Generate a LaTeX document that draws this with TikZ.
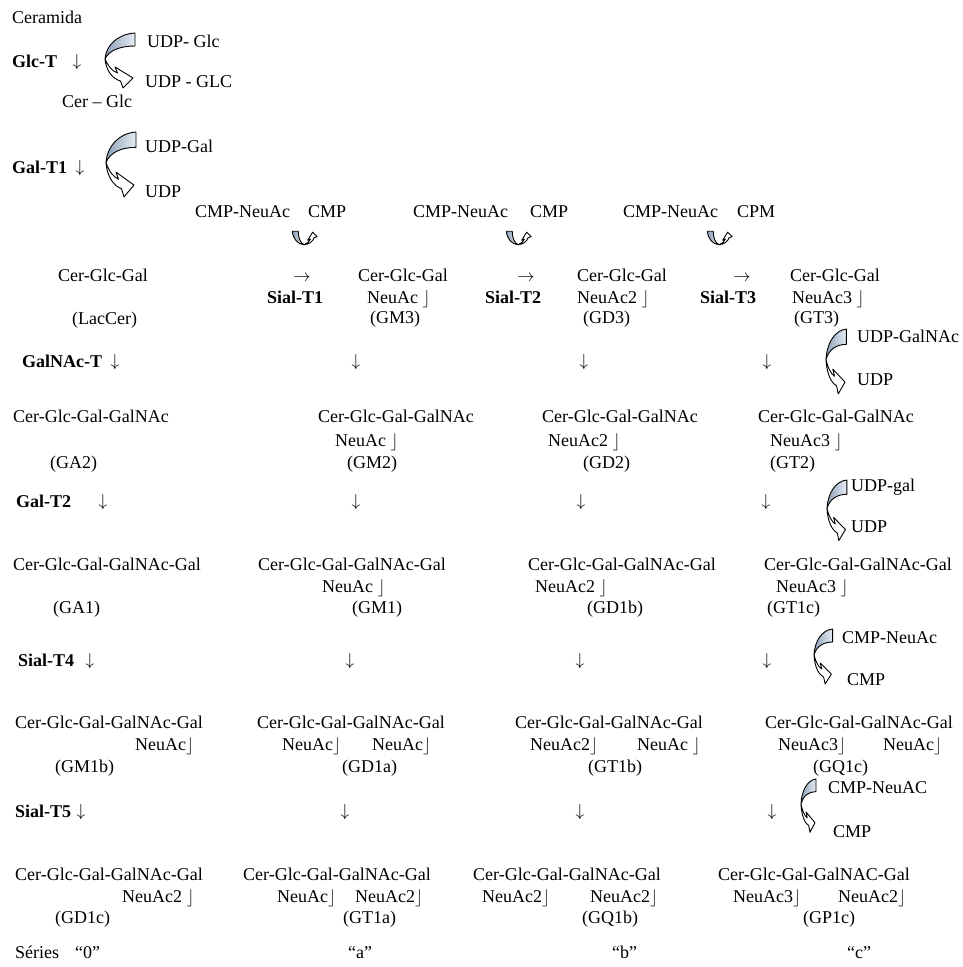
\documentclass[tikz,border=0pt]{standalone}
\usepackage{fontspec}
\setmainfont{Liberation Serif}
\definecolor{shLight}{HTML}{E6EDF4}
\definecolor{shDark}{HTML}{8CA1B7}
\newcommand{\cvarrow}[1]{%
  \begin{scope}[#1]
    \shadedraw[left color=shDark, right color=shLight, draw=black, line width=0.9pt, line join=round]
      (30,0) .. controls (13,1) and (1,12) .. (0,26) .. controls (4,17) and (16,13) .. (30,13) -- cycle;
    \filldraw[fill=white, draw=black, line width=0.9pt, line join=round]
      (0,26) .. controls (1,38) and (8,46) .. (15.5,48) -- (18,55) -- (28,45) -- (10,34) -- (12.5,40)
      .. controls (7,38) and (3,33) .. (0,26) -- cycle;
  \end{scope}}
\newcommand{\dar}{$\downarrow$}
\newcommand{\rar}{$\rightarrow$}
\tikzset{
  lbl/.style={anchor=west, inner sep=0pt, text height=13pt, text depth=3pt, font=\fontsize{18}{21}\selectfont},
  enz/.style={lbl, font=\fontsize{18}{21}\selectfont\bfseries},
  glyph/.style={lbl, anchor=center},
}
\begin{document}
\begin{tikzpicture}[x=1pt, y=-1pt]
\useasboundingbox (0,0) rectangle (962,967);

% ---------- top part
\node[lbl] (ceramida) at (12,18) {Ceramida};
\node[enz] (glct) at (12,62) {Glc-T};
\node[glyph] (dglct) at (77,61) {\dar};
\cvarrow{shift={(105,33)}}
\node[lbl] (udpglc) at (147,42) {UDP- Glc};
\node[lbl] (udpGLC) at (145,82) {UDP - GLC};
\node[lbl] (cerglc) at (62,102) {Cer – Glc};

\node[lbl] (udpgal) at (145,147) {UDP-Gal};
\node[enz] (galt1) at (12,168) {Gal-T1};
\node[glyph] (dgalt1) at (80,167) {\dar};
\cvarrow{shift={(106,132)}, yscale=1.18}
\node[lbl] (udp1) at (145,192) {UDP};

% ---------- CMP row
\node[lbl] (cmpn1) at (195,212) {CMP-NeuAc};
\node[lbl] (cmp1) at (308,212) {CMP};
\node[lbl] (cmpn2) at (413,212) {CMP-NeuAc};
\node[lbl] (cmp2) at (530,212) {CMP};
\node[lbl] (cmpn3) at (623,212) {CMP-NeuAc};
\node[lbl] (cpm3) at (737,212) {CPM};
\cvarrow{shift={(292.4,244.75)}, rotate=90, scale=0.45}
\cvarrow{shift={(506.4,244.75)}, rotate=90, scale=0.45}
\cvarrow{shift={(707.4,244.75)}, rotate=90, scale=0.45}

% ---------- LacCer / GM3 / GD3 / GT3
\node[lbl] (lac) at (58,276) {Cer-Glc-Gal};
\node[lbl] (lacn) at (72,319) {(LacCer)};
\node[glyph] (r1) at (302,276) {\rar};
\node[enz] (s1) at (267,298) {Sial-T1};
\node[lbl] (gm3a) at (358,276) {Cer-Glc-Gal};
\node[lbl] (gm3b) at (367,298) {NeuAc $\rfloor$};
\node[lbl] (gm3c) at (370,318) {(GM3)};
\node[glyph] (r2) at (526,276) {\rar};
\node[enz] (s2) at (485,298) {Sial-T2};
\node[lbl] (gd3a) at (577,276) {Cer-Glc-Gal};
\node[lbl] (gd3b) at (577,298) {NeuAc2 $\rfloor$};
\node[lbl] (gd3c) at (583,318) {(GD3)};
\node[glyph] (r3) at (742,276) {\rar};
\node[enz] (s3) at (700,298) {Sial-T3};
\node[lbl] (gt3a) at (790,276) {Cer-Glc-Gal};
\node[lbl] (gt3b) at (792,298) {NeuAc3 $\rfloor$};
\node[lbl] (gt3c) at (794,318) {(GT3)};

% ---------- GalNAc-T
\node[enz] (galnact) at (22,362) {GalNAc-T};
\node[glyph] (dg0) at (115,361) {\dar};
\node[glyph] (dg1) at (356,361) {\dar};
\node[glyph] (dg2) at (584,361) {\dar};
\node[glyph] (dg3) at (767,361) {\dar};
\cvarrow{shift={(826,329)}, xscale=0.68, yscale=1.18}
\node[lbl] (udpgalnac) at (857,337) {UDP-GalNAc};
\node[lbl] (udp2) at (857,380) {UDP};

% ---------- GA2 / GM2 / GD2 / GT2
\node[lbl] (ga2a) at (13,417) {Cer-Glc-Gal-GalNAc};
\node[lbl] (ga2c) at (50,463) {(GA2)};
\node[lbl] (gm2a) at (318,417) {Cer-Glc-Gal-GalNAc};
\node[lbl] (gm2b) at (335,441) {NeuAc $\rfloor$};
\node[lbl] (gm2c) at (347,463) {(GM2)};
\node[lbl] (gd2a) at (542,417) {Cer-Glc-Gal-GalNAc};
\node[lbl] (gd2b) at (548,441) {NeuAc2 $\rfloor$};
\node[lbl] (gd2c) at (583,463) {(GD2)};
\node[lbl] (gt2a) at (758,417) {Cer-Glc-Gal-GalNAc};
\node[lbl] (gt2b) at (770,441) {NeuAc3 $\rfloor$};
\node[lbl] (gt2c) at (770,463) {(GT2)};

% ---------- Gal-T2
\node[enz] (galt2) at (16,502) {Gal-T2};
\node[glyph] (dh0) at (103,501) {\dar};
\node[glyph] (dh1) at (356,501) {\dar};
\node[glyph] (dh2) at (581,501) {\dar};
\node[glyph] (dh3) at (766,501) {\dar};
\cvarrow{shift={(827,480)}, xscale=0.66, yscale=1.1}
\node[lbl] (udpgal2) at (851,486) {UDP-gal};
\node[lbl] (udp3) at (851,527) {UDP};

% ---------- GA1 / GM1 / GD1b / GT1c
\node[lbl] (ga1a) at (13,565) {Cer-Glc-Gal-GalNAc-Gal};
\node[lbl] (ga1c) at (53,608) {(GA1)};
\node[lbl] (gm1a) at (258,565) {Cer-Glc-Gal-GalNAc-Gal};
\node[lbl] (gm1b) at (322,587) {NeuAc $\rfloor$};
\node[lbl] (gm1c) at (352,608) {(GM1)};
\node[lbl] (gd1ba) at (528,565) {Cer-Glc-Gal-GalNAc-Gal};
\node[lbl] (gd1bb) at (535,587) {NeuAc2 $\rfloor$};
\node[lbl] (gd1bc) at (587,608) {(GD1b)};
\node[lbl] (gt1ca) at (764,565) {Cer-Glc-Gal-GalNAc-Gal};
\node[lbl] (gt1cb) at (776,587) {NeuAc3 $\rfloor$};
\node[lbl] (gt1cc) at (767,608) {(GT1c)};

% ---------- Sial-T4
\node[enz] (sialt4) at (18,661) {Sial-T4};
\node[glyph] (di0) at (90,660) {\dar};
\node[glyph] (di1) at (350,660) {\dar};
\node[glyph] (di2) at (580,660) {\dar};
\node[glyph] (di3) at (767,660) {\dar};
\cvarrow{shift={(814,629)}, xscale=0.62, yscale=1.0}
\node[lbl] (cmpneuac4) at (842,638) {CMP-NeuAc};
\node[lbl] (cmp4) at (847,680) {CMP};

% ---------- GM1b / GD1a / GT1b / GQ1c
\node[lbl] (gm1ba) at (15,723) {Cer-Glc-Gal-GalNAc-Gal};
\node[lbl] (gm1bb) at (135,745) {NeuAc$\rfloor$};
\node[lbl] (gm1bc) at (55,767) {(GM1b)};
\node[lbl] (gd1aa) at (257,723) {Cer-Glc-Gal-GalNAc-Gal};
\node[lbl] (gd1ab) at (282,745) {NeuAc$\rfloor$};
\node[lbl] (gd1ab2) at (372,745) {NeuAc$\rfloor$};
\node[lbl] (gd1ac) at (342,767) {(GD1a)};
\node[lbl] (gt1ba) at (515,723) {Cer-Glc-Gal-GalNAc-Gal};
\node[lbl] (gt1bb) at (530,745) {NeuAc2$\rfloor$};
\node[lbl] (gt1bb2) at (637,745) {NeuAc $\rfloor$};
\node[lbl] (gt1bc) at (588,767) {(GT1b)};
\node[lbl] (gq1ca) at (765,723) {Cer-Glc-Gal-GalNAc-Gal};
\node[lbl] (gq1cb) at (778,745) {NeuAc3$\rfloor$};
\node[lbl] (gq1cb2) at (883,745) {NeuAc$\rfloor$};
\node[lbl] (gq1cc) at (813,767) {(GQ1c)};

% ---------- Sial-T5
\node[enz] (sialt5) at (15,812) {Sial-T5};
\node[glyph] (dj0) at (81,811) {\dar};
\node[glyph] (dj1) at (345,811) {\dar};
\node[glyph] (dj2) at (580,811) {\dar};
\node[glyph] (dj3) at (772,811) {\dar};
\cvarrow{shift={(801,779)}, xscale=0.5, yscale=0.97}
\node[lbl] (cmpneuac5) at (828,788) {CMP-NeuAC};
\node[lbl] (cmp5) at (833,832) {CMP};

% ---------- GD1c / GT1a / GQ1b / GP1c
\node[lbl] (gd1ca) at (15,875) {Cer-Glc-Gal-GalNAc-Gal};
\node[lbl] (gd1cb) at (122,897) {NeuAc2 $\rfloor$};
\node[lbl] (gd1cc) at (55,918) {(GD1c)};
\node[lbl] (gt1aa) at (243,875) {Cer-Glc-Gal-GalNAc-Gal};
\node[lbl] (gt1ab) at (277,897) {NeuAc$\rfloor$};
\node[lbl] (gt1ab2) at (355,897) {NeuAc2$\rfloor$};
\node[lbl] (gt1ac) at (343,918) {(GT1a)};
\node[lbl] (gq1ba) at (473,875) {Cer-Glc-Gal-GalNAc-Gal};
\node[lbl] (gq1bb) at (482,897) {NeuAc2$\rfloor$};
\node[lbl] (gq1bb2) at (590,897) {NeuAc2$\rfloor$};
\node[lbl] (gq1bc) at (582,918) {(GQ1b)};
\node[lbl] (gp1ca) at (718,875) {Cer-Glc-Gal-GalNAC-Gal};
\node[lbl] (gp1cb) at (733,897) {NeuAc3$\rfloor$};
\node[lbl] (gp1cb2) at (838,897) {NeuAc2$\rfloor$};
\node[lbl] (gp1cc) at (803,918) {(GP1c)};

% ---------- series
\node[lbl] (series) at (15,953) {Séries};
\node[lbl] (s0) at (75,953) {“0”};
\node[lbl] (sa) at (348,953) {“a”};
\node[lbl] (sb) at (612,953) {“b”};
\node[lbl] (sc) at (847,953) {“c”};
\end{tikzpicture}
\end{document}
